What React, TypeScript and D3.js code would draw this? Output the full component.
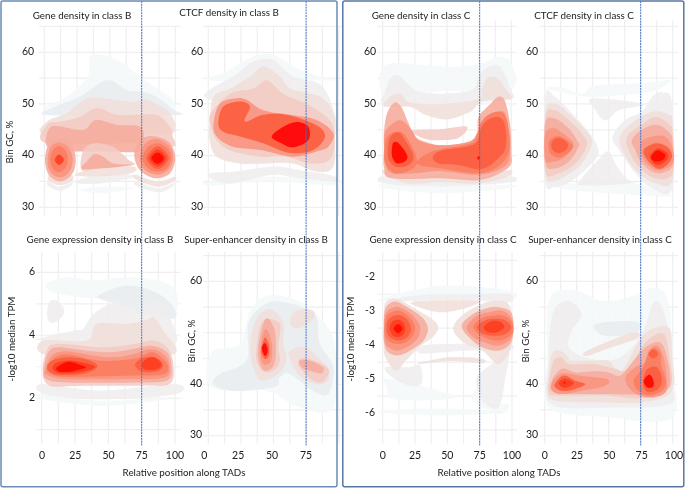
import React from 'react'
import * as d3 from 'd3'

type Band = [number, number[]]

// contour fill per density level, palest first; the last one is the cool gray outer band
const levelColors = ['#f4f8f9', '#efeded', '#f1e0dc', '#f3ccc4', '#f6ad9e', '#f99580', '#fb7c60', '#fc5d3e', '#fe3d20', '#ff0800', '#e9edef']

const xGrid = [0, 12.5, 25, 37.5, 50, 62.5, 75, 87.5, 100]
const xLabels = [0, 25, 50, 75, 100]
const xLabelsShort = [0, 25, 50, 75]
const gcTicks = [30, 40, 50, 60]
const gcTicksSparse = [30, 40, 60]
const gcGrid = [30, 35, 40, 45, 50, 55, 60, 65]
const tpmTicksB = [2, 4, 6]
const tpmGridB = [1, 2, 3, 4, 5, 6]
const tpmTicksC = [-2, -3, -4, -5, -6]
const tpmGridC = [-1.5, -2.5, -3.5, -4.5, -5.5, -6.5]

// contour outlines as [level, x,y, x,y, ...], in data units
const geneB: Band[] = [
  [0, [4, 50, 17, 51.4, 33, 55.3, 35, 59.2, 45, 59.5, 60, 57.9, 73, 55.3, 88, 52.7, 98, 50.8, 98, 48.2, 68, 48.2, 43, 48.8, 4, 48.8]],
  [10, [9, 49.5, 27, 51.4, 48, 54.6, 63, 52.7, 81, 52, 98, 49, 98, 47.8, 4, 47.8]],
  [2, [2, 46.6, 17, 48.2, 32, 51, 48, 51, 68, 50.4, 78, 50.8, 96, 48.2, 98, 44.3, 68, 44.3, 2, 44]],
  [3, [2, 46, 12, 46.6, 27, 47.5, 40, 49.2, 55, 47.9, 70, 47.9, 86, 47.9, 96, 45.6, 98, 43.7, 98, 41.7, 68, 42.4, 2, 42.4]],
  [4, [1, 42.4, 4, 45.3, 11, 45.7, 30, 45, 39, 46.9, 55, 46, 73, 45.6, 76, 43, 73, 40.8, 50, 40.8, 25, 40.8, 8, 41]],
  [0, [27, 33.4, 42.5, 34, 68, 33.7, 42.5, 32.7]],
  [1, [26, 35.3, 42.5, 36.3, 66.7, 36.3, 65.4, 35.6, 42.5, 34.6, 26, 34.6]],
  [2, [24.7, 36.6, 42.5, 37.5, 68, 37.9, 66.7, 36.6, 42.5, 36, 26, 36]],
  [3, [28.5, 37.2, 30, 41.1, 38.7, 42.4, 52.7, 41.7, 64, 39.2, 68, 38.2, 42, 37.5]],
  [4, [28.5, 37.5, 33.6, 39.2, 38.7, 40.3, 45, 39.8, 52.7, 38.5, 66.8, 38.2, 42, 37.5]],
  [1, [3, 35, 11.2, 34, 21, 34.8, 19.6, 34, 11.2, 33.2, 3, 34.1]],
  [2, [4.3, 36.3, 11.2, 35.3, 21, 36.3, 21, 35, 11.2, 34.3, 3, 35.3]],
  [4, [0.5, 39.2, 2, 41.5, 6, 43, 12, 43.3, 19, 42.8, 23, 41, 24, 39, 22.5, 37, 18, 35.6, 12, 35, 6, 35.6, 2, 37]],
  [5, [2.5, 39.2, 4, 41.3, 7.5, 42.3, 12, 42.5, 17.5, 41.8, 21, 40.3, 21.7, 39, 20, 37.2, 16, 36.1, 11.5, 35.8, 7, 36.2, 3.5, 37.4]],
  [6, [4.5, 39.3, 6.5, 41, 11, 41.8, 16, 41, 18, 39.3, 16, 37.6, 11, 36.8, 6.5, 37.5]],
  [8, [8, 39.2, 11.2, 40.2, 15, 39.2, 11.2, 38.2]],
  [1, [70.5, 35, 86.5, 33.7, 99, 34.7, 96, 33.7, 86.5, 32.9, 70.5, 34.1]],
  [2, [69, 36.3, 86.5, 35, 99.7, 35.9, 98.5, 35, 86.5, 34, 70.5, 35.3]],
  [4, [69, 41.1, 75.6, 43.4, 85.7, 43.7, 96, 42.4, 100, 39.5, 96, 36.6, 85.7, 35.6, 75.6, 36.6, 70, 38.5]],
  [5, [73, 39.5, 77, 42.4, 86.5, 43.2, 96, 41.7, 98.5, 39.5, 94.6, 37.2, 86.5, 36.3, 77, 37.2]],
  [6, [75, 39.5, 79.4, 41.7, 86.5, 42.4, 94, 41.4, 96.7, 39.5, 93.4, 37.5, 86.5, 36.9, 79.4, 37.5]],
  [7, [78, 39.5, 86.5, 41.8, 95, 39.5, 86.5, 37.4]],
  [8, [80, 39.5, 86.5, 41.2, 93, 39.5, 86.5, 37.9]],
  [9, [81.7, 39.5, 86.5, 40.6, 91.3, 39.5, 86.5, 38.4]],
]

const ctcfB: Band[] = [
  [0, [1, 54.6, 14, 56.3, 34.5, 59.2, 50, 59.5, 68, 56.9, 86, 55.3, 98, 54.6, 70, 54.6]],
  [1, [1, 52.7, 19, 55.3, 34.5, 58.2, 50, 58.5, 65, 55.3, 86, 53.7, 96, 48.8, 96, 44, 50, 47.5, 1, 50.8]],
  [0, [1, 35, 45, 35.9, 97, 35, 97, 34.2, 45, 35, 1, 34.2]],
  [1, [1, 36.6, 19, 36.9, 50, 37.9, 70, 37.2, 97, 36, 97, 35, 70, 35.6, 50, 36.3, 19, 34.7, 4, 35.3]],
  [2, [1, 43, 1, 46.3, 4, 51.4, 17, 53, 32, 55.3, 42, 57.2, 55, 55.3, 63, 53, 86, 51.4, 96, 48.2, 97, 44.3, 96, 37.9, 83, 36.9, 65, 38.5, 45, 38.5, 24, 38.5, 6.4, 39.8]],
  [3, [2, 48.2, 17, 52, 34.5, 53, 45, 54.6, 57.5, 52, 75.5, 50, 93, 46.9, 97, 43, 93, 39.2, 78, 38.5, 60, 39.8, 40, 39.8, 17, 41, 6.4, 43, 2, 45.6]],
  [5, [4, 46.3, 9, 50.1, 21.7, 51.1, 29.4, 50.8, 42, 48.8, 62.7, 47.9, 83, 46.9, 96, 44.3, 92, 41.7, 83, 40.8, 65, 39.8, 40, 41.1, 19, 41.7, 6.4, 43.7]],
  [7, [7.7, 46.3, 11.5, 49.5, 24.3, 50.5, 32, 49.5, 28, 46.6, 42, 47.9, 60, 47.9, 83, 45.9, 89.5, 43.7, 80.6, 41.1, 62.7, 40.5, 42, 42.4, 24.3, 43.7, 11.5, 44.6]],
  [9, [48.6, 43.7, 57.5, 45.6, 67.8, 46.5, 76.7, 45.6, 76.7, 43, 65, 41.6, 56, 42.4]],
]

const geneC: Band[] = [
  [0, [2, 57.5, 33, 57.5, 56.5, 57.2, 77, 57.9, 90, 59.2, 100, 57.9, 100, 53, 50, 52.5, 2, 52]],
  [1, [1.5, 52, 6, 55, 12.4, 55.6, 19, 54, 28, 52.4, 46, 52, 69.4, 52.7, 75, 55.6, 82.4, 57.2, 91.5, 57.2, 99, 53, 98, 50.8, 46, 50, 2, 50]],
  [2, [1, 49.5, 6, 51.4, 13.7, 52, 21.5, 50.3, 46, 50, 74.6, 50.9, 77, 52.7, 81, 55, 89, 55, 95, 53.1, 100, 51, 82.4, 50.8, 76, 50.4, 68, 48.5, 50, 47, 33, 47.9, 21.5, 49.4]],
  [0, [2, 34.6, 46, 34, 98, 34.3, 98, 33.7, 46, 32.7, 2, 33.7]],
  [1, [1, 36, 46, 35, 98, 36, 98, 34.8, 46, 34, 2, 34.6]],
  [2, [1, 37.2, 20, 36, 46, 36.3, 74.6, 35.6, 98, 37.2, 98, 36, 74.6, 34.6, 46, 34.9, 20, 34.6, 2, 36.3]],
  [3, [22.8, 44.8, 45, 45.1, 65.5, 45.6, 59, 43.4, 46, 43, 33, 43.2]],
  [4, [1, 44.6, 3.4, 48.2, 9.3, 50.3, 14.5, 49.4, 19, 46.9, 22.8, 44.8, 26.7, 43.4, 33, 42.7, 46, 42, 67, 42.7, 73.3, 44.3, 74.6, 47.5, 83.7, 50, 90, 51.4, 95, 50.6, 99, 46.1, 100, 40.9, 98, 37.7, 76, 35.3, 46, 35.6, 7, 35.6, 1, 37.7, 1, 41.7]],
  [5, [1, 41.7, 2, 44.6, 9.8, 46.6, 16.3, 46.6, 22.8, 44.8, 28.5, 42.9, 46, 42, 67, 42.7, 73.3, 44.3, 77, 46.2, 82.4, 47.9, 90, 48.5, 95, 48.2, 98, 44.3, 99, 40.4, 95, 37.9, 75, 36.3, 46, 37, 25.4, 36.6, 7, 36.6, 2, 38.5]],
  [6, [1.5, 41, 3.4, 43.6, 9.8, 44.6, 16.3, 44.3, 22.8, 41.7, 26.7, 38.8, 21.5, 37.2, 9.8, 36.6, 2, 38.5]],
  [6, [26.7, 38.5, 38.3, 40.8, 64, 42.1, 72, 43, 76, 46.2, 82.4, 47.9, 91.5, 48.5, 96.6, 47, 98.7, 41.7, 92.7, 38.5, 76, 36.6, 46, 37.5]],
  [7, [3.9, 41, 6, 43.6, 12.4, 44.5, 17.6, 43, 24, 39.8, 19, 38, 9.8, 37.9, 4.7, 39.2]],
  [7, [39, 39.8, 46, 41, 64, 41.7, 73.3, 42.7, 77, 45.6, 82.4, 47, 90, 47.5, 95, 46, 95.8, 41.7, 90, 39.5, 77, 37.4, 59, 38.2, 43.5, 38.5]],
  [9, [7.3, 41.7, 8.5, 42.6, 12.4, 42.4, 19, 40.1, 17.6, 38.9, 11, 38.5, 7.3, 39.8]],
  [9, [73.4, 39.6, 74.6, 39.9, 75.8, 39.6, 74.6, 39.2]],
]

const ctcfC: Band[] = [
  [0, [1, 53, 13.5, 53.2, 29, 52, 40, 53.6, 76, 54, 98, 54.6, 84, 52.4, 50, 51.5, 29, 51.5]],
  [1, [37, 51.1, 77.3, 50, 57.8, 48.8, 47.4, 46.8, 39.6, 48.8]],
  [0, [0.5, 35, 24, 34.6, 55, 35.3, 89, 33.4, 97, 32.1, 50, 32.7, 11, 33.7]],
  [1, [27.9, 35.3, 42, 39.2, 50, 40.8, 56.5, 37.9, 65.6, 35.3, 76, 35, 50, 34.3, 27.9, 34.3]],
  [1, [0.5, 51.4, 8, 51.4, 24, 47.5, 37, 43.7, 42, 40.5, 34.4, 37.9, 21.5, 35.2, 8, 34, 0.5, 35.2]],
  [2, [0.5, 48.5, 8, 50.1, 18.7, 48.2, 31.8, 45, 37, 42.4, 29, 38.5, 16, 36, 5.7, 35, 0.5, 36.6]],
  [3, [0.5, 47.5, 8, 48.8, 18.7, 46.9, 29, 44.3, 33, 42, 24, 38.5, 11, 36.6, 0.5, 36.9]],
  [4, [0.5, 46.3, 8, 47.2, 18.7, 45.3, 25.3, 43, 26.6, 41.7, 18.7, 38.8, 8, 37.5, 0.5, 38.5]],
  [5, [0.5, 44.3, 7, 45.3, 16, 44, 22.7, 42.1, 16, 39.8, 7, 38.8, 0.5, 39.2]],
  [6, [3, 42.1, 5, 43.3, 11, 43.8, 18.7, 42.7, 22, 41.7, 18.7, 40.6, 11, 39.6, 4.4, 40.4]],
  [7, [5, 42, 7, 43.1, 11.5, 43.4, 16.5, 42.8, 18.2, 42, 16.5, 41.1, 11.5, 40.5, 7, 40.9]],
  [1, [53, 43.7, 63, 46.9, 76, 48.5, 84, 51.4, 91.7, 52.2, 99.5, 50.1, 100, 34, 84, 33.7, 71, 36.6, 58, 41.1]],
  [2, [59, 43.7, 68, 46.3, 84, 48.5, 97, 47.9, 100, 46.3, 100, 35.3, 86.5, 34.6, 71, 37.2, 60.4, 41.1]],
  [3, [64.3, 43.7, 73.4, 45.6, 86.5, 47.5, 98, 45.9, 100, 44.3, 100, 36.6, 86.5, 35.6, 73.4, 37.9, 65.6, 41.1]],
  [4, [68, 43, 76, 45, 87.8, 46, 98, 44.3, 100, 42.4, 100, 37.9, 87.8, 36.6, 76, 38.5, 70.8, 41.1]],
  [5, [74.7, 42.4, 84, 43.7, 94, 43.7, 99.5, 41.7, 100, 38.5, 87.8, 37.2, 77.3, 39.2]],
  [7, [77.3, 41.1, 86.5, 42.4, 95.6, 41.7, 99.5, 39.8, 94, 37.9, 87.8, 37.5, 80, 39.2]],
  [8, [82.5, 40.1, 88.5, 41.4, 95.6, 40.5, 95.6, 39.2, 88.5, 38.2, 84, 38.8]],
  [9, [83.3, 39.9, 87.8, 41, 93.8, 40.3, 93, 39.3, 87.8, 38.8, 83.9, 39.2]],
]

const expressionB: Band[] = [
  [0, [2.5, 5.6, 19, 5.84, 39, 5.74, 69, 5.84, 99, 5.52, 99, 4.57, 79, 5, 44, 5.15, 14, 5.3]],
  [10, [44, 5.3, 64, 5.58, 86, 5.36, 99, 4.89, 99, 4.52, 76, 4.68, 64, 4.89, 44, 5.15]],
  [1, [4, 4.73, 6, 5.08, 12.5, 5.08, 17, 4.73, 10, 4.41, 5, 4.46]],
  [1, [1.3, 3.93, 24, 4.15, 31, 4.2, 39, 4.68, 54, 5, 74, 4.78, 86, 5.1, 96, 4.57, 100, 3.72, 69, 3.6, 1.3, 3.83]],
  [2, [1.3, 3.83, 34, 3.83, 41, 4.36, 64, 4.36, 79, 4.5, 84, 4.57, 91, 4.15, 99, 3.4, 44, 3.3, 1.3, 3.4]],
  [0, [1.3, 2.13, 44, 1.92, 100, 2.03, 69, 1.82, 39, 1.77, 1.3, 1.97]],
  [1, [0, 2.45, 44, 2.24, 100, 2.45, 100, 2.13, 44, 1.97, 2.5, 2.13]],
  [3, [0.7, 2.88, 3.7, 3.51, 10, 3.72, 31, 3.67, 49, 3.62, 69, 3.72, 84, 3.83, 95, 3.56, 99, 2.98, 96, 2.45, 76, 2.4, 31, 2.4, 6, 2.4]],
  [4, [1.3, 2.88, 5, 3.46, 12.5, 3.62, 34, 3.51, 51, 3.46, 69, 3.56, 82.5, 3.67, 94, 3.46, 97.5, 2.98, 94, 2.56, 69, 2.5, 19, 2.5, 3.7, 2.6]],
  [5, [2.5, 2.88, 7.5, 3.35, 19, 3.49, 39, 3.35, 54, 3.3, 69, 3.4, 82.5, 3.56, 92.5, 3.35, 96, 2.98, 92.5, 2.66, 69, 2.61, 19, 2.61, 5, 2.72]],
  [6, [3.7, 2.93, 10, 3.3, 21, 3.38, 44, 3.19, 69, 3.25, 82.5, 3.46, 91, 3.25, 95, 2.98, 91, 2.75, 69, 2.72, 19, 2.68, 7.5, 2.77]],
  [7, [4, 3, 8, 3.2, 20, 3.3, 34, 3.22, 42, 3.02, 34, 2.8, 20, 2.74, 8, 2.78]],
  [7, [70, 3.05, 74, 3.24, 82, 3.32, 89, 3.2, 91, 3.02, 87, 2.86, 76, 2.84]],
  [8, [8, 2.98, 12, 3.14, 22, 3.2, 34, 3.1, 40, 2.98, 32, 2.85, 20, 2.79, 11, 2.82]],
  [8, [75, 3.07, 78, 3.24, 84, 3.3, 89, 3.14, 89, 2.98, 84, 2.9, 77, 2.92]],
  [9, [11, 2.96, 20, 3.16, 31, 3.03, 32.5, 2.96, 22.5, 2.85, 14, 2.84]],
]

const enhancerB: Band[] = [
  [0, [2.5, 46.2, 24, 47.8, 32, 54.3, 44.6, 57.2, 65, 56.6, 83, 53.6, 97, 47.8, 96, 35.5, 70, 35.5, 44.6, 38.7, 2.5, 39.4]],
  [10, [3.8, 40, 9, 42, 29.3, 44.6, 30.6, 51.7, 42, 55.3, 57.4, 56, 81.6, 53.6, 85.5, 47.8, 96, 43.3, 92, 38.1, 80.4, 38.7, 62.5, 42, 55, 41.3, 50, 39.4, 19, 38.7]],
  [2, [32, 47.2, 37, 52.7, 47, 54.6, 57.4, 52, 57.4, 47.8, 60, 45.2, 55, 42.3, 42, 40.7, 35.7, 42.3]],
  [3, [37, 47.2, 39.5, 51, 44.6, 52.7, 55, 51.7, 53.6, 47.2, 55, 44.6, 50, 42.6, 42, 42.5, 37, 44.6]],
  [4, [38.3, 47.2, 42, 51.7, 46, 52.7, 51, 50.4, 51.8, 46.5, 50, 43.6, 43.4, 42.6, 39, 44.3]],
  [5, [40, 47.2, 42, 49.8, 44.6, 50.7, 47.7, 49.1, 49, 46.5, 47.7, 44.3, 43.4, 43.8, 40.3, 44.9]],
  [7, [40.8, 47, 43.4, 49.1, 46.7, 47.5, 46.2, 45.5, 43.4, 44.9, 40.8, 45.9]],
  [9, [41, 47, 43.4, 48, 45.4, 47, 45, 45.9, 43.4, 45.5]],
  [2, [62.5, 52.4, 67.6, 54.3, 80.4, 54.3, 80.4, 52.7, 71.4, 51, 65, 51]],
  [2, [62.5, 46.5, 74, 47.2, 85.5, 44.9, 92, 43, 92, 40.7, 83, 40, 70, 41.7, 62.5, 44.9]],
  [3, [70, 44.9, 77.8, 44.9, 92, 43, 88.5, 40.6, 80.4, 40.7, 70, 43.3]],
  [4, [70, 44.6, 77.8, 44.6, 88, 43.3, 86.7, 42.1, 77.8, 42.6, 71.4, 43.3]],
]

const expressionC: Band[] = [
  [0, [2, -2.59, 46, -2.25, 97.5, -2.39, 97.5, -2.69, 46, -2.49, 2, -2.69]],
  [1, [4.6, -2.74, 25, -2.54, 72, -2.49, 98, -2.49, 98, -2.74, 72, -2.69, 25, -2.69]],
  [2, [25, -2.71, 72, -2.69, 66.5, -2.88, 46, -3.03, 28, -2.88]],
  [0, [2, -4.99, 29, -5.19, 56, -5.53, 33, -5.63, 7, -5.58, 3.4, -5.24]],
  [0, [2, -5.92, 46, -5.87, 97.5, -5.97, 46, -6.07, 2, -6]],
  [0, [69, -5.58, 77, -5.14, 79, -5.73, 97.5, -5.73, 92, -6.02, 82, -5.92]],
  [1, [73, -4.94, 84.5, -4.55, 97.5, -4.16, 95, -4.94, 90, -5.82, 79, -5.73, 74, -5.33]],
  [1, [2, -4.65, 20, -4.65, 29, -4.6, 30, -5.14, 20, -5.19, 7, -4.94]],
  [1, [30, -4.01, 64, -3.96, 97.5, -3.96, 97.5, -4.16, 64, -4.16, 30, -4.25]],
  [2, [30, -4.5, 54, -4.35, 77, -4.4, 77, -4.53, 54, -4.47, 30, -4.55]],
  [2, [0.8, -3.96, 1, -3, 3, -2.7, 11, -2.64, 23, -2.88, 41, -3.32, 41, -3.67, 28, -4.06, 18, -4.45, 10, -4.75, 2, -4.35]],
  [4, [0.8, -3.5, 1.5, -3, 5, -2.78, 11, -2.72, 22, -2.95, 31, -3.2, 35, -3.5, 32, -3.85, 24, -4.1, 13, -4.3, 4, -4.2, 1, -3.9]],
  [5, [1, -3.5, 2, -3.1, 6, -2.93, 12, -2.87, 21, -3.05, 27, -3.3, 29, -3.5, 27, -3.8, 20, -4.03, 11, -4.16, 4, -4.05, 1.5, -3.85]],
  [6, [1.5, -3.5, 3, -3.15, 7, -3.02, 12.4, -2.98, 19, -3.12, 24, -3.35, 25, -3.52, 23, -3.75, 17, -3.93, 9, -3.96, 4, -3.85, 2, -3.7]],
  [7, [3, -3.5, 5, -3.22, 12.5, -3.11, 19, -3.25, 22, -3.52, 19, -3.76, 12.5, -3.86, 5, -3.75]],
  [8, [5.4, -3.5, 7.5, -3.3, 12, -3.25, 16, -3.33, 17.5, -3.52, 16, -3.68, 12, -3.76, 7.5, -3.7]],
  [9, [8.5, -3.52, 12, -3.38, 15.3, -3.52, 12, -3.65]],
  [2, [55, -3.42, 61, -3.13, 74, -2.83, 87, -2.69, 98.7, -2.88, 100, -3.96, 90, -4.55, 77, -4.16, 64, -3.96, 56, -3.67]],
  [4, [61, -3.44, 68, -3.13, 79, -2.93, 90, -2.88, 100, -3.08, 100, -3.86, 90, -4.16, 77, -4.06, 68, -3.81]],
  [5, [65, -3.47, 73, -3.13, 82, -3.03, 92, -2.98, 100, -3.23, 100, -3.76, 90, -4.01, 78, -3.91, 70, -3.76]],
  [6, [70, -3.47, 77, -3.2, 84.5, -3.13, 93.5, -3.13, 100, -3.32, 100, -3.67, 90, -3.86, 78, -3.76]],
  [7, [73, -3.47, 79, -3.27, 87, -3.22, 95, -3.27, 99.5, -3.47, 95, -3.67, 87, -3.72, 78, -3.67]],
  [8, [78, -3.47, 84.5, -3.29, 91, -3.32, 94, -3.47, 88.5, -3.62, 82, -3.62]],
]

const enhancerC: Band[] = [
  [0, [8, 57.9, 24, 58.2, 45, 56.2, 65.6, 56.9, 86.5, 58.8, 97, 55.6, 99.5, 44.6, 99.5, 33.6, 50, 33.6, 3, 35.5, 2, 44.6, 2, 54.3]],
  [1, [8.3, 54.9, 18.8, 56.2, 29, 53.6, 21, 50.4, 18.8, 47.2, 32, 45.2, 50, 44.6, 63, 45.9, 76, 49.8, 86.5, 56.2, 95.6, 51.7, 98, 41.3, 98, 36.2, 50, 35.5, 4.4, 36.2, 3, 44.6, 4.4, 51]],
  [10, [39.6, 51.7, 71, 52.2, 72, 50, 47, 49.4]],
  [2, [33, 46.5, 68, 50, 73, 49, 50, 47, 33, 45.5]],
  [2, [3, 41.3, 5.7, 45.9, 12, 46.5, 18.8, 45.2, 21, 44.6, 39.6, 44.6, 50, 44.6, 59, 42.3, 71, 47.2, 81, 50.4, 97, 51, 99.5, 45.9, 99.5, 38.7, 76, 36.5, 45, 36.5, 8.3, 36.8, 2, 38.7]],
  [3, [3.6, 40.7, 7, 44.6, 13.5, 45.2, 18.8, 43.9, 39.6, 43.9, 55, 43, 63, 42.6, 71, 45.2, 80, 48.5, 93, 49.8, 97.4, 45.2, 98, 39.4, 76, 37.3, 44.8, 37.8, 8.3, 37.8, 3, 38.7]],
  [4, [5.7, 40.7, 13.5, 43, 24, 42.3, 39.6, 42.5, 50, 42.3, 59, 41.7, 69.5, 44.6, 78.6, 47.2, 90, 48.1, 95.6, 45.2, 97, 39.4, 76, 38.1, 44.8, 38.1, 8.3, 38.4]],
  [5, [5.7, 40.4, 13.5, 42.1, 29, 41.6, 48.7, 41, 47.4, 39.7, 29, 38.7, 13.5, 38.1, 6.3, 38.7]],
  [5, [63, 41.3, 70.8, 43.3, 78.6, 44.3, 81, 46.5, 87.8, 47.5, 93, 45.2, 95.6, 40, 93, 38.1, 81, 37.4, 68, 38.7]],
  [6, [69.5, 40.7, 77, 43.3, 79.6, 45.2, 85, 47, 90.4, 46, 91, 43.6, 94.8, 40.7, 91.6, 38.7, 81, 37.8, 73.4, 38.7]],
  [7, [8.3, 40.2, 14.9, 41.7, 24, 40.7, 31.8, 40, 22.6, 39, 13.5, 38.7, 8.3, 39.4]],
  [8, [11, 40.2, 15.6, 41.1, 22.7, 40.2, 15.6, 39.3]],
  [9, [14.8, 40.3, 15.5, 40.6, 16.2, 40.3, 15.5, 40]],
  [7, [77.3, 41, 80, 42.9, 87.8, 43.3, 91.6, 41, 89, 39.1, 81, 38.4, 77.3, 39.4]],
  [7, [81, 45.9, 85, 46.8, 88.5, 45.9, 85, 45]],
  [9, [77.3, 40.7, 81.8, 41.9, 85, 40.7, 84.6, 39.5, 80, 39.4]],
]

const panels = [
  { title: 'Gene density in class B', tx: 82, ty: 17, bands: geneB, xr: [44.3, 175.3], yd: [30, 60], yr: [207.3, 52.3], grid: gcGrid, ticks: gcTicks, tickX: 28, vt: 27, vb: 216, yTitle: 'Bin GC, %', ytx: 11, yty: 142 },
  { title: 'CTCF density in class B', tx: 229, ty: 14, bands: ctcfB, xr: [208.3, 338.7], yd: [30, 60], yr: [207.3, 52.3], grid: gcGrid, ticks: gcTicks, tickX: 197, vt: 27, vb: 216 },
  { title: 'Gene density in class C', tx: 421, ty: 17, bands: geneC, xr: [382.7, 511.3], yd: [30, 60], yr: [207.3, 52.3], grid: gcGrid, ticks: gcTicks, tickX: 370, vt: 20, vb: 216 },
  { title: 'CTCF density in class C', tx: 584, ty: 17, bands: ctcfC, xr: [544.7, 672.7], yd: [30, 60], yr: [207.3, 52.3], grid: gcGrid, ticks: gcTicks, tickX: 532, vt: 20, vb: 216 },
  { title: 'Gene expression density in class B', tx: 100, ty: 241, bands: expressionB, xr: [41.7, 175], yd: [1, 6], yr: [429.7, 272.3], grid: tpmGridB, ticks: tpmTicksB, tickX: 32, vt: 252, vb: 444, yTitle: '-log10 median TPM', ytx: 13, yty: 339, labels: xLabels, lr: [42, 175], ld: [0, 100] },
  { title: 'Super-enhancer density in class B', tx: 256, ty: 241, bands: enhancerB, xr: [208.3, 338.7], yd: [30, 60], yr: [435.7, 281.3], grid: gcGrid, ticks: gcTicksSparse, tickX: 196, vt: 252, vb: 444, yTitle: 'Bin GC, %', ytx: 193, yty: 341, labels: xLabelsShort, lr: [204.3, 306], ld: [0, 75] },
  { title: 'Gene expression density in class C', tx: 443, ty: 241, bands: expressionC, xr: [382.7, 512], yd: [-6, -2], yr: [413, 277.3], grid: tpmGridC, ticks: tpmTicksC, tickX: 370, vt: 252, vb: 444, yTitle: '-log10 median TPM', ytx: 352, yty: 339, labels: xLabels, lr: [382.7, 512], ld: [0, 100] },
  { title: 'Super-enhancer density in class C', tx: 600, ty: 241, bands: enhancerC, xr: [544.7, 672.7], yd: [30, 60], yr: [435.7, 281.3], grid: gcGrid, ticks: gcTicksSparse, tickX: 532, vt: 252, vb: 444, yTitle: 'Bin GC, %', ytx: 527, yty: 341, labels: xLabels, lr: [544.7, 674], ld: [0, 100] },
]

const font = 'Lato, "Open Sans", sans-serif'
const textColor = '#1c1c1c'
const fontSize = 9.8
const tickSize = 10.5

const toPairs = (flat: number[]) => d3.range(0, flat.length, 2).map(i => [flat[i], flat[i + 1]])

const Panel = ({ p }: { p: (typeof panels)[number] }) => {
  const x = d3.scaleLinear().domain([0, 100]).range(p.xr)
  const y = d3.scaleLinear().domain(p.yd).range(p.yr)
  const line = d3
    .line()
    .x(d => x(d[0]))
    .y(d => y(d[1]))
    .curve(d3.curveCatmullRomClosed.alpha(0))
  const label = p.labels ? d3.scaleLinear().domain(p.ld).range(p.lr) : null

  return (
    <g fontFamily={font} fill={textColor}>
      <g stroke="#efefef" strokeWidth={1.2} filter="url(#soft)">
        {p.grid.map(g => (
          <line key={g} x1={x(-4)} x2={x(104)} y1={y(g)} y2={y(g)} />
        ))}
        {xGrid.map(g => (
          <line key={g} x1={x(g)} x2={x(g)} y1={p.vt} y2={p.vb} />
        ))}
      </g>
      <g filter="url(#soft)">
        {p.bands.map(([level, flat], i) => (
          <path key={i} d={line(toPairs(flat) as any)!} fill={levelColors[level]} fillOpacity={0.9} />
        ))}
      </g>
      <g filter="url(#text)" fontSize={fontSize}>
        <text x={p.tx} y={p.ty} textAnchor="middle" dominantBaseline="middle">
          {p.title}
        </text>
        {p.ticks.map(t => (
          <text key={t} x={p.tickX} y={y(t)} textAnchor="middle" dominantBaseline="middle" fontSize={tickSize}>
            {t}
          </text>
        ))}
        {p.yTitle && (
          <text transform={`translate(${p.ytx},${p.yty}) rotate(-90)`} textAnchor="middle" dominantBaseline="middle">
            {p.yTitle}
          </text>
        )}
        {p.labels &&
          p.labels.map(t => (
            <text key={t} x={label!(t)} y={456} textAnchor="middle" dominantBaseline="middle" fontSize={tickSize}>
              {t}
            </text>
          ))}
      </g>
    </g>
  )
}

export default function App() {
  const lower = panels.slice(4)
  return (
    <svg width={685} height={488} style={{ position: 'absolute', left: 0, top: 0 }}>
      <defs>
        <filter id="soft" x="-5%" y="-5%" width="110%" height="110%">
          <feGaussianBlur stdDeviation={0.7} />
        </filter>
        <filter id="text" x="-5%" y="-5%" width="110%" height="110%">
          <feGaussianBlur stdDeviation={0.25} />
        </filter>
      </defs>
      <rect width={685} height={488} fill="#fff" />
      {panels.map(p => (
        <Panel key={p.title} p={p} />
      ))}
      {lower.map(p => {
        const x = d3.scaleLinear().domain([0, 100]).range(p.xr)
        return (
          <line key={p.title} x1={x(75)} x2={x(75)} y1={1} y2={446} stroke="#4472c4" strokeWidth={1} strokeDasharray="2 0.8" />
        )
      })}
      <g fontFamily={font} fill={textColor} fontSize={fontSize} textAnchor="middle" filter="url(#text)">
        <text x={184} y={474} dominantBaseline="middle">
          Relative position along TADs
        </text>
        <text x={499} y={474} dominantBaseline="middle">
          Relative position along TADs
        </text>
      </g>
      <rect x={1} y={1} width={336} height={485.7} rx={2} fill="none" stroke="#6c8bb5" strokeWidth={1.5} />
      <rect x={342.8} y={1} width={341} height={485.7} rx={2} fill="none" stroke="#5877a8" strokeWidth={1.5} />
    </svg>
  )
}
